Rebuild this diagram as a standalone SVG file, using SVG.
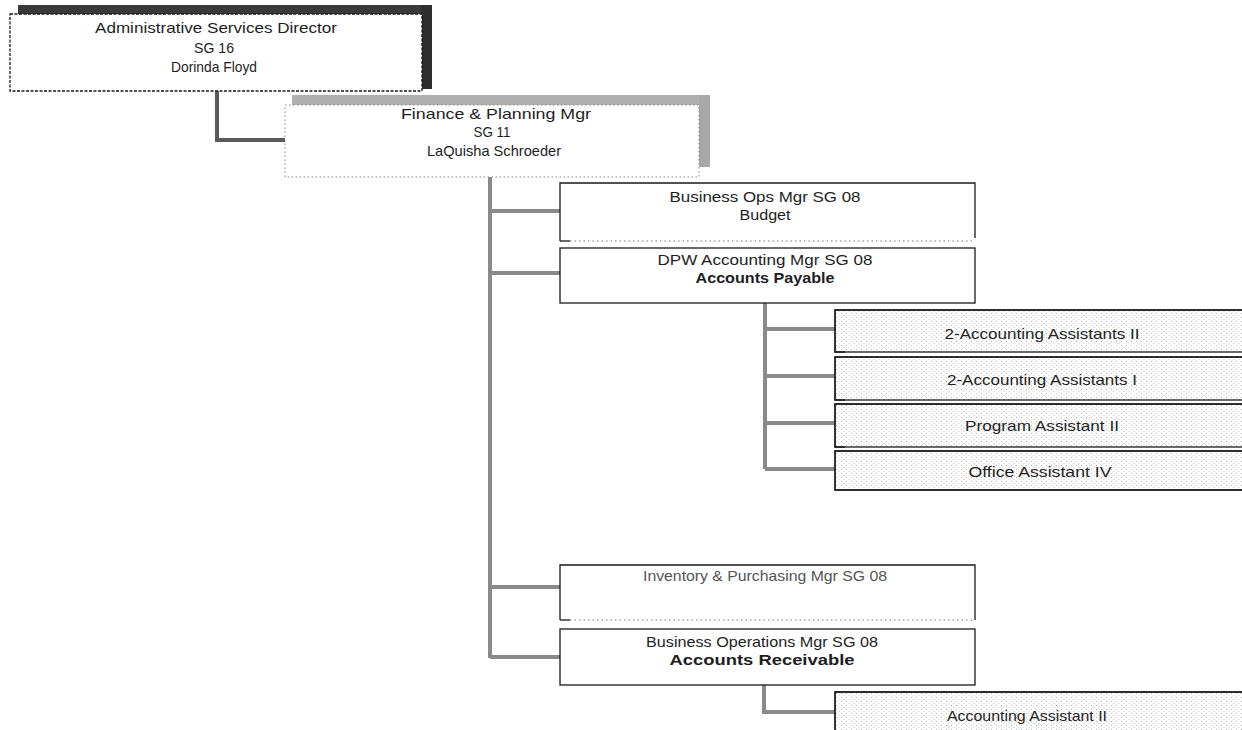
<svg xmlns="http://www.w3.org/2000/svg" width="1242" height="730" viewBox="0 0 1242 730">
<defs>
<pattern id="dots" width="5" height="4" patternUnits="userSpaceOnUse">
<rect width="5" height="4" fill="#ffffff"/>
<rect x="1" y="1" width="1" height="1" fill="#b8b8b8"/>
<rect x="3.5" y="3" width="1" height="1" fill="#d0d0d0"/>
</pattern>
<style>
.t{font-family:"Liberation Sans",Arial,sans-serif;font-size:15px;fill:#1e1e1e;text-anchor:middle}
.b{font-weight:bold}
.g{fill:#555}
.box{fill:#ffffff;stroke:#1a1a1a;stroke-width:1.3}
.sub{fill:url(#dots);stroke:#1a1a1a;stroke-width:1.3}
.dotb{fill:none;stroke:#777;stroke-width:1;stroke-dasharray:1.5 3}
.con{fill:none;stroke:#8a8a8a;stroke-width:4}
.con2{fill:none;stroke:#5a5a5a;stroke-width:4}
</style>
</defs>
<rect width="1242" height="730" fill="#ffffff"/>

<g id="connectors">
<path class="con2" d="M217 91 V140 H285"/>
<path class="con" d="M490 177 V658"/>
<path class="con" d="M490 211 H560 M490 273 H560 M490 587 H560 M490 657 H560"/>
<path class="con" d="M765 303 V469"/>
<path class="con" d="M765 329 H835 M765 376 H835 M765 423 H835 M765 469 H835"/>
<path class="con" d="M764 685 V712 H835"/>
</g>

<g id="n-admin">
<rect x="18" y="5" width="414" height="9" fill="#3a3a3a"/>
<rect x="421" y="5" width="11" height="84" fill="#2e2e2e"/>
<rect class="box" x="10" y="14" width="412" height="77" stroke-dasharray="3 1.5"/>
<text class="t" x="216" y="33" textLength="242" lengthAdjust="spacingAndGlyphs">Administrative Services Director</text>
<text class="t" x="214" y="53" textLength="40" lengthAdjust="spacingAndGlyphs">SG 16</text>
<text class="t" x="214" y="72" textLength="86" lengthAdjust="spacingAndGlyphs">Dorinda Floyd</text>
</g>

<g id="n-finance">
<rect x="292" y="95" width="418" height="10" fill="#b0b0b0"/>
<rect x="699" y="95" width="11" height="72" fill="#a8a8a8"/>
<rect x="285" y="105" width="414" height="72" fill="#ffffff" stroke="#888" stroke-width="1" stroke-dasharray="1.5 2.5"/>
<text class="t" x="496" y="119" textLength="190" lengthAdjust="spacingAndGlyphs">Finance &amp; Planning Mgr</text>
<text class="t" x="492" y="137" textLength="37" lengthAdjust="spacingAndGlyphs">SG 11</text>
<text class="t" x="494" y="156" textLength="134" lengthAdjust="spacingAndGlyphs">LaQuisha Schroeder</text>
</g>

<g id="n-busops">
<path class="box" d="M560 241 V183 H975 V238" fill="#fff"/>
<path d="M560 241 H570" stroke="#1a1a1a" stroke-width="1.3"/>
<path class="dotb" d="M570 241 H975"/>
<text class="t" x="765" y="202" textLength="191" lengthAdjust="spacingAndGlyphs">Business Ops Mgr SG 08</text>
<text class="t" x="765" y="220" textLength="51" lengthAdjust="spacingAndGlyphs">Budget</text>
</g>

<g id="n-dpw">
<rect class="box" x="560" y="248" width="415" height="55"/>
<text class="t" x="765" y="265" textLength="215" lengthAdjust="spacingAndGlyphs">DPW Accounting Mgr SG 08</text>
<text class="t b" x="765" y="283" textLength="139" lengthAdjust="spacingAndGlyphs">Accounts Payable</text>
</g>

<g id="n-aa2">
<rect class="sub" x="835" y="310" width="412" height="42" stroke="none"/>
<path d="M845 352 H835 V310 H1242" fill="none" stroke="#1a1a1a" stroke-width="1.3"/>
<text class="t" x="1042" y="339" textLength="195" lengthAdjust="spacingAndGlyphs">2-Accounting Assistants II</text>
</g>

<g id="n-aa1">
<rect class="sub" x="835" y="357" width="412" height="43" stroke="none"/>
<path d="M845 400 H835 V357 H1242" fill="none" stroke="#1a1a1a" stroke-width="1.3"/>
<text class="t" x="1042" y="385" textLength="190" lengthAdjust="spacingAndGlyphs">2-Accounting Assistants I</text>
</g>

<g id="n-pa2">
<rect class="sub" x="835" y="404" width="412" height="43" stroke="none"/>
<path d="M845 447 H835 V404 H1242" fill="none" stroke="#1a1a1a" stroke-width="1.3"/>
<text class="t" x="1042" y="431" textLength="154" lengthAdjust="spacingAndGlyphs">Program Assistant II</text>
</g>

<g id="n-oa4">
<rect class="sub" x="835" y="451" width="412" height="39" stroke="none"/>
<path d="M1242 490 H835 V451 H1242" fill="none" stroke="#1a1a1a" stroke-width="1.3"/>
<text class="t" x="1040" y="477" textLength="143" lengthAdjust="spacingAndGlyphs">Office Assistant IV</text>
</g>

<g id="n-inventory">
<path class="box" d="M560 620 V565 H975 V620" fill="#fff"/>
<path d="M560 620 H570" stroke="#1a1a1a" stroke-width="1.3"/>
<path class="dotb" d="M570 620 H975"/>
<text class="t g" x="765" y="581" textLength="244" lengthAdjust="spacingAndGlyphs">Inventory &amp; Purchasing Mgr SG 08</text>
</g>

<g id="n-busoper">
<rect class="box" x="560" y="629" width="415" height="56"/>
<text class="t" x="762" y="647" textLength="232" lengthAdjust="spacingAndGlyphs">Business Operations Mgr SG 08</text>
<text class="t b" x="762" y="665" textLength="185" lengthAdjust="spacingAndGlyphs">Accounts Receivable</text>
</g>

<g id="n-acct2">
<rect class="sub" x="835" y="692" width="412" height="40" stroke="none"/>
<path d="M835 732 V692 H1242" fill="none" stroke="#1a1a1a" stroke-width="1.3"/>
<text class="t" x="1027" y="721" textLength="160" lengthAdjust="spacingAndGlyphs">Accounting Assistant II</text>
</g>
</svg>
